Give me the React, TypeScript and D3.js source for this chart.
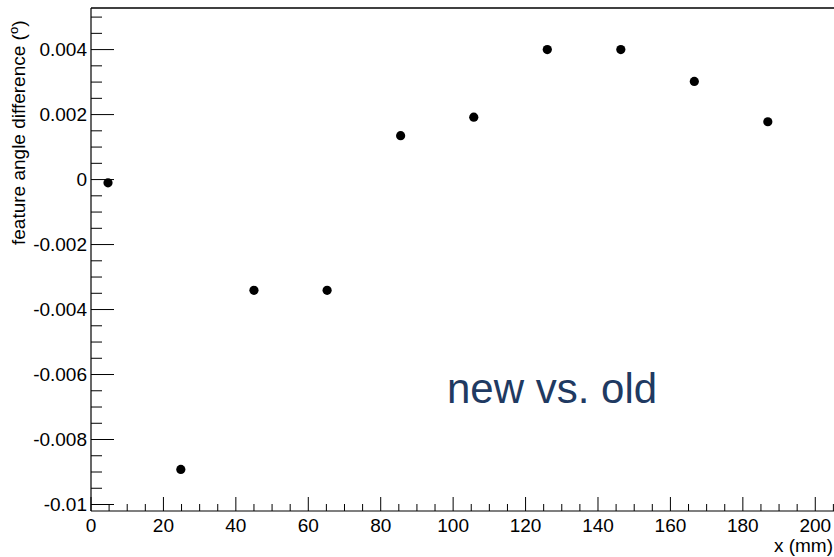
import React from "react";
import * as d3 from "d3";

const xValues = [4.7, 24.8, 45.0, 65.2, 85.5, 105.7, 126.0, 146.3, 166.6, 186.9];
const yValues = [-0.0001, -0.00892, -0.00341, -0.00341, 0.00135, 0.00192, 0.004, 0.004, 0.00302, 0.00178];
const xMajorTicks = [0, 20, 40, 60, 80, 100, 120, 140, 160, 180, 200];
const yMajorTicks = [-0.01, -0.008, -0.006, -0.004, -0.002, 0, 0.002, 0.004];
const yTickLabels = ["-0.01", "-0.008", "-0.006", "-0.004", "-0.002", "0", "0.002", "0.004"];
const xTitle = "x (mm)";
const yTitle = "feature angle difference (";
const annotation = "new vs. old";

const W = 834;
const H = 557;
const left = 91;
const top = 8;
const bottom = 511;
const right = 837;

export default function App() {
  const x = d3.scaleLinear().domain([0, 206]).range([left, right]);
  const y = d3.scaleLinear().domain([-0.0102, 0.00528]).range([bottom, top]);
  const xMinor = d3.range(0, 206, 5).filter((v) => v % 20 !== 0);
  const yMinor = d3.range(-0.01, 0.00526, 0.0005).map((v) => +v.toFixed(5)).filter(
    (v) => Math.abs(Math.round(v / 0.002) * 0.002 - v) > 1e-7
  );
  const font = "'Liberation Sans', Arial, Helvetica, sans-serif";
  return (
    <svg width={W} height={H} style={{ position: "absolute", left: 0, top: 0, background: "#fff" }} fontFamily={font}>
      <rect x={0} y={0} width={W} height={H} fill="#fff" />
      {/* frame */}
      <line x1={left} y1={top} x2={W} y2={top} stroke="#000" strokeWidth={1.5} />
      <line x1={left} y1={top} x2={left} y2={bottom} stroke="#000" strokeWidth={1.2} />
      <line x1={left} y1={bottom} x2={W} y2={bottom} stroke="#000" strokeWidth={1.2} />
      {/* y ticks */}
      {yMajorTicks.map((v, i) => (
        <g key={"ym" + i}>
          <line x1={left} x2={left + 23} y1={y(v)} y2={y(v)} stroke="#000" strokeWidth={1} />
          <text x={87} y={y(v)} dy="0.35em" textAnchor="end" fontSize={19} fill="#000">
            {yTickLabels[i]}
          </text>
        </g>
      ))}
      {yMinor.map((v, i) => (
        <line key={"yn" + i} x1={left} x2={left + 11} y1={y(v)} y2={y(v)} stroke="#000" strokeWidth={1} />
      ))}
      {/* x ticks */}
      {xMajorTicks.map((v, i) => (
        <g key={"xm" + i}>
          <line x1={x(v)} x2={x(v)} y1={bottom} y2={bottom - 14} stroke="#000" strokeWidth={1} />
          <text x={x(v)} y={532} textAnchor="middle" fontSize={19} fill="#000">
            {v}
          </text>
        </g>
      ))}
      {xMinor.map((v, i) => (
        <line key={"xn" + i} x1={x(v)} x2={x(v)} y1={bottom} y2={bottom - 7} stroke="#000" strokeWidth={1} />
      ))}
      {/* titles */}
      <text x={833} y={552} textAnchor="end" fontSize={19} fill="#000">
        {xTitle}
      </text>
      <text transform="translate(25,245) rotate(-90)" textAnchor="start" fontSize={19} fill="#000">
        {yTitle}
        <tspan dy={-7} fontSize={13}>o</tspan>
        <tspan dy={7}>)</tspan>
      </text>
      {/* points */}
      {xValues.map((v, i) => (
        <circle key={"p" + i} cx={x(v)} cy={y(yValues[i])} r={4.6} fill="#000" />
      ))}
      <text x={447} y={403} fontSize={42} fill="#1f3a62">
        {annotation}
      </text>
    </svg>
  );
}
